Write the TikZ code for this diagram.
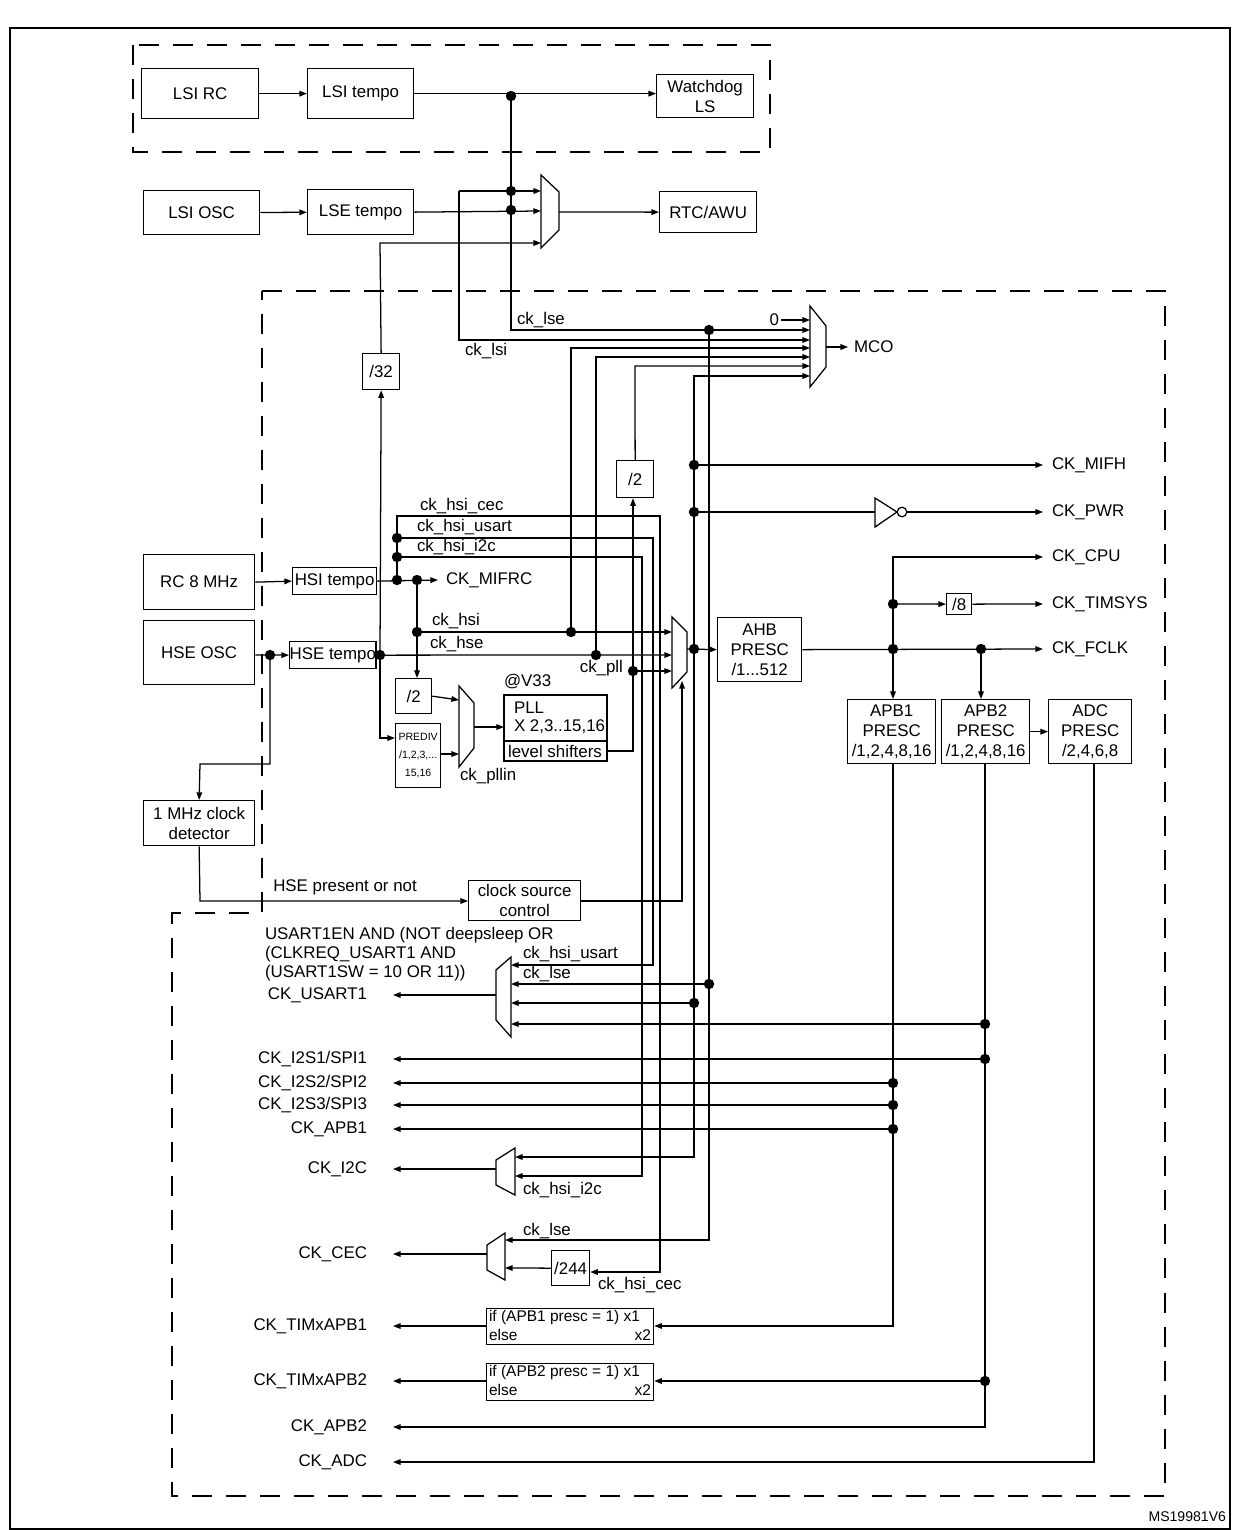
\documentclass[tikz,border=0pt]{standalone}
\usepackage{fontspec}
\setmainfont{Liberation Sans}
\usetikzlibrary{arrows.meta}

\newcommand\blk[6]{\node[box,anchor=north west,minimum width=#4*0.25mm,minimum height=#5*0.25mm] (#1) at (#2,#3) {#6};}

\begin{document}
\begin{tikzpicture}[
  x=0.025cm, y=-0.025cm,
  every node/.style={font=\fontsize{12}{14}\selectfont, inner sep=1pt},
  box/.style={draw, line width=0.9pt, align=center, inner sep=0pt},
  arr/.style={-{Triangle[length=1.9mm,width=1.4mm]}},
  dashframe/.style={line width=1.1pt, dash pattern=on 5mm off 3.5mm},
  line width=0.9pt
]
\useasboundingbox (0,0) rectangle (1232,1530);
\draw[line width=1.3pt] (10,28) rectangle (1230,1529);

% frames
\draw[dashframe] (133,45) rectangle (770,152);
\draw[dashframe] (262,291) -- (1165,291) -- (1165,1496) -- (172,1496) -- (172,913) -- (262,913) -- cycle;

% blocks
\blk{lsirc}{141}{68}{117}{50}{LSI RC}
\blk{lsitempo}{307}{68}{106}{50}{LSI tempo}
\blk{wdg}{656}{74}{97}{43}{Watchdog\\LS}
\blk{lsiosc}{143}{190}{116}{44}{LSI OSC}
\blk{lsetempo}{307}{189}{106}{45}{LSE tempo}
\blk{rtc}{659}{191}{97}{41}{RTC/AWU}
\blk{div32}{362}{353}{37}{36}{/32}
\blk{rc8}{143}{554}{111}{55}{RC 8 MHz}
\blk{hseosc}{143}{620}{111}{64}{HSE OSC}
\blk{hsitempo}{292}{567}{84}{27}{HSI tempo}
\blk{hsetempo}{289}{641}{84}{27}{HSE tempo}
\blk{divtwoa}{616}{460}{37}{37}{/2}
\blk{divtwob}{395}{678}{36}{35}{/2}
\blk{prediv}{395}{723}{45}{64}{\fontsize{7.5}{9}\selectfont PREDIV\\[-1pt]\fontsize{7.5}{9}\selectfont /1,2,3,...\\[-1pt]\fontsize{7.5}{9}\selectfont 15,16}
\blk{ahb}{717}{617}{84}{64}{AHB\\PRESC\\/1...512}
\blk{div8}{946}{593}{25}{21}{/8}
\blk{apb1}{847}{699}{88}{64}{APB1\\PRESC\\/1,2,4,8,16}
\blk{apb2}{941}{699}{88}{64}{APB2\\PRESC\\/1,2,4,8,16}
\blk{adc}{1048}{699}{83}{64}{ADC\\PRESC\\/2,4,6,8}
\blk{det}{143}{800}{111}{45}{1 MHz clock\\detector}
\blk{csc}{468}{880}{112}{40}{clock source\\control}
\blk{div244}{551}{1250}{38}{35}{/244}
\blk{timone}{486}{1308}{167}{36}{}
\blk{timtwo}{486}{1363}{167}{37}{}

% PLL
\draw (504,695) rectangle (607,761);
\draw (504,741) -- (607,741);
\node[anchor=west] (pll) at (512,708) {PLL};
\node[anchor=west] (pllx) at (512,727) {X 2,3..15,16};
\node (lvl) at (555,751) {level shifters};
\node[anchor=west] (vdd) at (502,682) {@V33};

% timer blocks text
\begin{scope}[every node/.style={font=\fontsize{11}{12}\selectfont, inner sep=1pt}]
\node[anchor=west] at (487,1317) {if (APB1 presc = 1) x1};
\node[anchor=west] at (487,1335) {else};
\node[anchor=east] at (653,1335) {x2};
\node[anchor=west] at (487,1372) {if (APB2 presc = 1) x1};
\node[anchor=west] at (487,1390) {else};
\node[anchor=east] at (653,1390) {x2};
\end{scope}

% muxes
\draw (541,175) -- (559,192) -- (559,230) -- (541,248) -- cycle;
\draw (810,306) -- (826,326) -- (826,367) -- (810,387) -- cycle;
\draw (672,617) -- (687,632) -- (687,672) -- (672,688) -- cycle;
\draw (459,686) -- (474,703) -- (474,748) -- (459,767) -- cycle;
\draw (511,957) -- (496,970) -- (496,1020) -- (511,1037) -- cycle;
\draw (515,1148) -- (496,1160) -- (496,1185) -- (515,1195) -- cycle;
\draw (505,1233) -- (487,1245) -- (487,1270) -- (505,1280) -- cycle;

% low speed part
\draw[arr] (lsirc) -- (lsitempo);
\draw[arr] (lsitempo.east) -- (wdg.west |- lsitempo.east);
\draw[arr] (lsiosc) -- (lsetempo);
\draw[arr] (lsetempo.east) -- (541,211);
\draw[arr] (459,191) -- (541,191);
\draw[arr] (459,191) -- (459,340) -- (810,340);
\draw[arr] (511,96) -- (511,330) -- (810,330);
\draw[arr] (559,212) -- (rtc.west);
\draw[arr] (div32.north) -- (380,243) -- (541,243);

% MCO
\node[anchor=east] (zero) at (781,320) {0};
\draw[arr] (zero.east) -- (810,320);
\draw[arr] (826,347) -- (848,347);
\node[anchor=west] (mco) at (852,347) {MCO};
\draw[arr] (571,632) -- (571,348) -- (810,348);
\draw[arr] (596,655) -- (596,357) -- (810,357);
\draw[arr] (divtwoa.north) -- (635,366) -- (810,366);
\draw[arr] (694,649) -- (694,376) -- (810,376);
\node[anchor=west] at (515,320) {ck\_lse};
\node[anchor=west] at (463,351) {ck\_lsi};

% HSI / HSE
\draw[arr] (rc8.east) -- (hsitempo.west);
\draw[arr] (hsitempo.east) -- (438,580);
\node[anchor=west] (mifrc) at (444,580) {CK\_MIFRC};
\draw[arr] (397,580) -- (397,516) -- (660,516) -- (660,1272) -- (div244.east |- 660,1272);
\draw[arr] (397,538) -- (653,538) -- (653,965) -- (511,965);
\draw[arr] (397,557) -- (642,557) -- (642,1176) -- (515,1176);
\node[anchor=west] at (418,506) {ck\_hsi\_cec};
\node[anchor=west] at (415,527) {ck\_hsi\_usart};
\node[anchor=west] at (415,547) {ck\_hsi\_i2c};
\draw[arr] (417,580) -- (divtwob.north -| 417,580);
\draw[arr] (417,632) -- (672,632);
\node[anchor=west] at (430,621) {ck\_hsi};
\draw[arr] (hseosc.east |- 270,655) -- (hsetempo.west);
\draw[arr] (270,655) -- (270,764) -- (200,764) -- (det.north);
\draw[arr] (hsetempo.east) -- (672,655);
\node[anchor=west] at (428,644) {ck\_hse};
\draw[arr] (380,655) -- (div32.south);
\draw[arr] (380,655) -- (380,738) -- (395,738);
\draw[arr] (divtwob.east) -- (459,700);
\draw[arr] (440,754) -- (459,754);
\draw[arr] (474,727) -- (504,727);
\node[anchor=west] at (458,776) {ck\_pllin};
\draw[arr] (607,751) -- (633,751) -- (divtwoa.south -| 633,751);
\draw[arr] (633,671) -- (672,671);
\node[anchor=east] at (625,668) {ck\_pll};
\draw[arr] (det.south) -- (200,901) -- (csc.west |- 200,901);
\node at (345,887) {HSE present or not};
\draw[arr] (csc.east |- 580,901) -- (682,901) -- (682,681);

% system clock distribution
\draw[arr] (687,649) -- (ahb.west);
\draw[arr] (694,649) -- (694,1157) -- (515,1157);
\draw[arr] (694,1003) -- (511,1003);
\draw[arr] (709,330) -- (709,1240) -- (505,1240);
\draw[arr] (709,984) -- (511,984);
\draw[arr] (694,465) -- (1043,465);
\draw (694,512) -- (875,512);
\draw (875,498) -- (897,512) -- (875,527) -- cycle;
\draw (902,512) circle (1.2mm);
\draw[arr] (907,512) -- (1043,512);
\draw[arr] (ahb.east) -- (1043,649);
\draw[arr] (893,649) -- (apb1.north -| 893,649);
\draw[arr] (893,649) -- (893,557) -- (1043,557);
\draw[arr] (893,604) -- (div8.west);
\draw[arr] (div8.east) -- (1043,604);
\draw[arr] (981,649) -- (981,699);
\draw[arr] (apb2.east) -- (adc.west);
\node[anchor=west] at (1050,465) {CK\_MIFH};
\node[anchor=west] at (1050,512) {CK\_PWR};
\node[anchor=west] at (1050,557) {CK\_CPU};
\node[anchor=west] at (1050,604) {CK\_TIMSYS};
\node[anchor=west] at (1050,649) {CK\_FCLK};

% peripheral clocks
\draw[arr] (893,763) -- (893,1326) -- (timone.east |- 893,1326);
\draw[arr] (985,763) -- (985,1427) -- (393,1427);
\draw[arr] (1094,763) -- (1094,1462) -- (393,1462);
\draw[arr] (985,1024) -- (511,1024);
\draw[arr] (985,1059) -- (393,1059);
\draw[arr] (985,1381) -- (timtwo.east |- 985,1381);
\foreach \yy in {1083,1105,1129}
  \draw[arr] (893,\yy) -- (393,\yy);
\draw[arr] (486,1326) -- (393,1326);
\draw[arr] (486,1381) -- (393,1381);
\draw[arr] (496,995) -- (393,995);
\draw[arr] (496,1169) -- (393,1169);
\draw[arr] (487,1254) -- (393,1254);
\draw[arr] (div244.west) -- (505,1268);
\node[anchor=west] at (521,954) {ck\_hsi\_usart};
\node[anchor=west] at (521,974) {ck\_lse};
\node[anchor=west] at (521,1190) {ck\_hsi\_i2c};
\node[anchor=west] at (521,1231) {ck\_lse};
\node[anchor=west] at (596,1285) {ck\_hsi\_cec};

\node[anchor=west] at (263,935) {USART1EN AND (NOT deepsleep OR};
\node[anchor=west] at (263,954) {(CLKREQ\_USART1 AND};
\node[anchor=west] at (263,973) {(USART1SW = 10 OR 11))};
\foreach \yy/\txt in {995/{CK\_USART1}, 1059/{CK\_I2S1/SPI1}, 1083/{CK\_I2S2/SPI2},
    1105/{CK\_I2S3/SPI3}, 1129/{CK\_APB1}, 1169/{CK\_I2C}, 1254/{CK\_CEC},
    1326/{CK\_TIMxAPB1}, 1381/{CK\_TIMxAPB2}, 1427/{CK\_APB2}, 1462/{CK\_ADC}}
  \node[anchor=east] at (369,\yy) {\txt};

% junctions
\foreach \p in {(511,96),(511,191),(511,210),(709,330),(397,580),(417,580),
    (397,538),(397,557),(417,632),(571,632),(270,655),(380,655),(596,655),
    (633,671),(694,465),(694,512),(694,649),(893,649),(981,649),(893,604),
    (709,984),(694,1003),(985,1024),(985,1059),(893,1083),(893,1105),
    (893,1129),(985,1381)}
  \fill \p circle (1.3mm);

\node[anchor=east, font=\fontsize{10}{12}\selectfont] at (1228,1517) {MS19981V6};
\end{tikzpicture}
\end{document}
